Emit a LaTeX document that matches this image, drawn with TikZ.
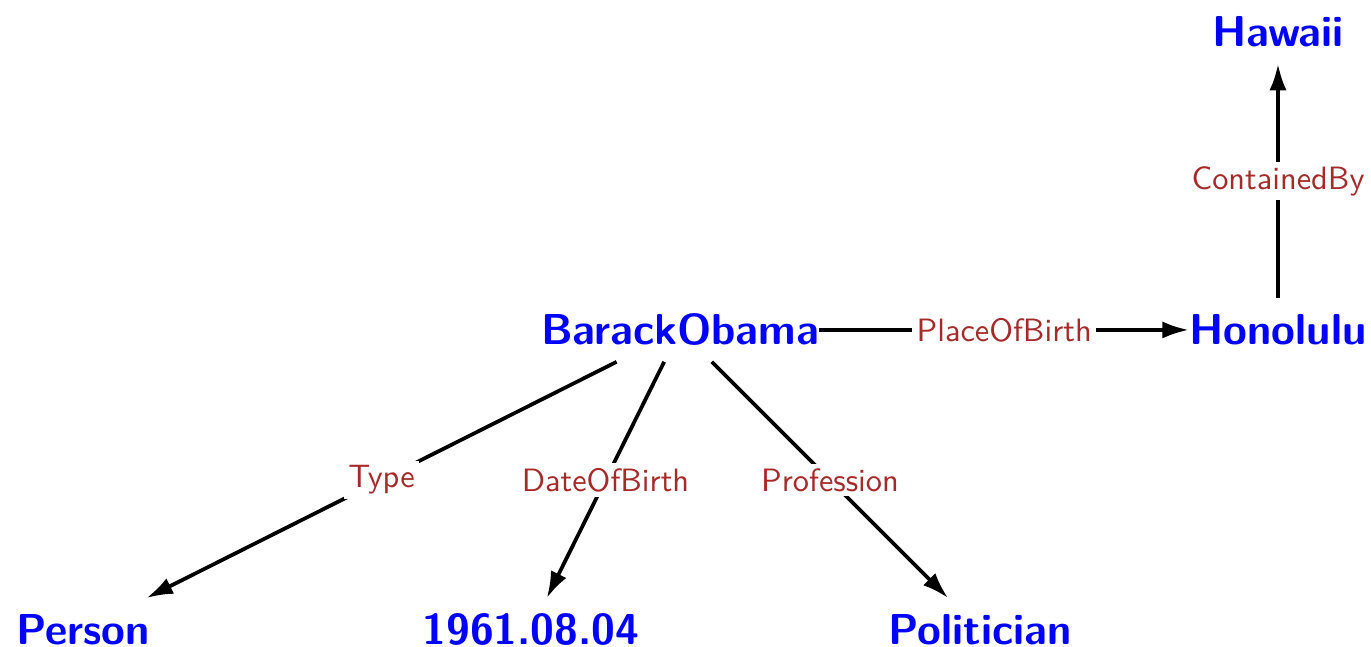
\documentclass[tikz,border=0pt]{standalone}
\usepackage{xcolor}
\usepackage{tikz}
\usetikzlibrary{arrows.meta}

\definecolor{relbrown}{RGB}{165,42,42}

\tikzset{
  entity/.style={font=\sffamily\bfseries\fontsize{13.85}{16}\selectfont, text=blue, inner xsep=0pt, minimum height=20pt},
  rel/.style={very thick, draw=black, -{Latex[length=8.5pt,width=5.5pt]}},
  rellabel/.style={font=\sffamily\fontsize{10.35}{12}\selectfont, text=relbrown, fill=white, inner sep=1.5pt, midway}
}

\begin{document}
\begin{tikzpicture}
\useasboundingbox (-7.648,-3.565) rectangle (7.772,3.711);

\node[entity] (obama) at (0,0) {BarackObama};
\node[entity] (honolulu) at (6.726,0) {Honolulu};
\node[entity] (hawaii) at (6.726,3.352) {Hawaii};
\node[entity] (person) at (-6.714,-3.374) {Person};
\node[entity] (dob) at (-1.676,-3.374) {1961.08.04};
\node[entity] (politician) at (3.374,-3.374) {Politician};

\draw [rel] (obama) -- (honolulu) node[rellabel] {PlaceOfBirth};
\draw [rel] (honolulu) -- (hawaii) node[rellabel] {ContainedBy};
\draw [rel] (obama) -- (person) node[rellabel] {Type};
\draw [rel] (obama) -- (dob) node[rellabel] {DateOfBirth};
\draw [rel] (obama) -- (politician) node[rellabel] {Profession};
\end{tikzpicture}
\end{document}
